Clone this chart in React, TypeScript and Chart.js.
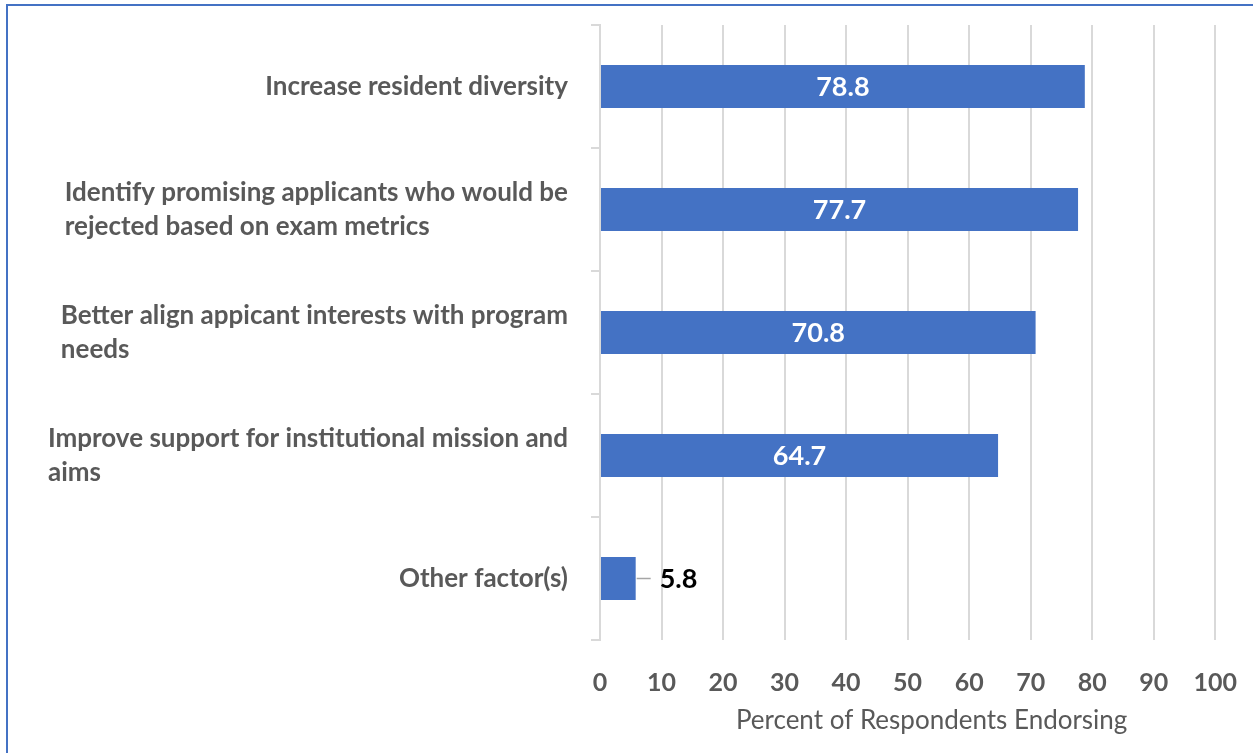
import React, { useEffect, useRef } from "react";
import { Chart, registerables } from "chart.js";

Chart.register(...registerables);

const categories: string[][] = [
  ["Increase resident diversity"],
  ["Identify promising applicants who would be", "rejected based on exam metrics"],
  ["Better align appicant interests with program", "needs"],
  ["Improve support for institutional mission and", "aims"],
  ["Other factor(s)"],
];
const values: number[] = [78.8, 77.7, 70.8, 64.7, 5.8];
const xTicks: number[] = [0, 10, 20, 30, 40, 50, 60, 70, 80, 90, 100];
const axisTitle = "Percent of Respondents Endorsing";

const FONT = "Lato, 'Noto Sans', sans-serif";
const GREY_TEXT = "#595959";
const GRID = "#d9d9d9";
const BAR = "#4472C4";

const labelPlugin = {
  id: "customLabels",
  afterDraw(chart: any) {
    const ctx = chart.ctx;
    const area = chart.chartArea;
    const yScale = chart.scales.y;
    ctx.save();
    // category labels
    ctx.font = `bold 26px ${FONT}`;
    ctx.fillStyle = GREY_TEXT;
    ctx.textBaseline = "middle";
    ctx.textAlign = "left";
    const lineH = 34;
    categories.forEach((lines, i) => {
      const cy = yScale.getPixelForValue(i);
      const maxW = Math.max(...lines.map((l) => ctx.measureText(l).width));
      const x0 = area.left - 32 - maxW;
      const startY = cy - ((lines.length - 1) * lineH) / 2;
      lines.forEach((l, j) => ctx.fillText(l, x0, startY + j * lineH));
    });
    // data labels
    const meta = chart.getDatasetMeta(0);
    ctx.font = `bold 27px ${FONT}`;
    meta.data.forEach((bar: any, i: number) => {
      const v = values[i];
      if (v > 20) {
        ctx.fillStyle = "#ffffff";
        ctx.textAlign = "center";
        ctx.fillText(v.toFixed(1), (bar.base + bar.x) / 2, bar.y + 1);
      } else {
        ctx.strokeStyle = "#a6a6a6";
        ctx.lineWidth = 1.5;
        ctx.beginPath();
        ctx.moveTo(bar.x + 1, bar.y);
        ctx.lineTo(bar.x + 15, bar.y);
        ctx.stroke();
        ctx.fillStyle = "#000000";
        ctx.textAlign = "left";
        ctx.fillText(v.toFixed(1), bar.x + 24, bar.y + 1);
      }
    });
    // axis title
    ctx.font = `26px ${FONT}`;
    ctx.fillStyle = GREY_TEXT;
    ctx.textAlign = "center";
    ctx.fillText(axisTitle, (area.left + area.right) / 2 + 24, 721);
    ctx.restore();
  },
};

export default function App() {
  const ref = useRef<HTMLCanvasElement | null>(null);
  useEffect(() => {
    if (!ref.current) return;
    const chart = new Chart(ref.current, {
      type: "bar",
      data: {
        labels: categories.map((c) => c.join(" ")),
        datasets: [
          {
            data: values,
            backgroundColor: BAR,
            borderWidth: 0,
            barPercentage: 0.35,
            categoryPercentage: 1,
          },
        ],
      },
      options: {
        indexAxis: "y",
        animation: false,
        responsive: false,
        maintainAspectRatio: false,
        layout: { padding: { top: 25, right: 37, bottom: 39, left: 0 } },
        plugins: {
          legend: { display: false },
          tooltip: { enabled: false },
          title: { display: false },
        },
        scales: {
          x: {
            min: 0,
            max: 100,
            afterBuildTicks: (scale: any) => {
              scale.ticks = xTicks.map((v) => ({ value: v }));
            },
            ticks: {
              color: GREY_TEXT,
              font: { family: FONT, size: 25, weight: "bold" },
              padding: 16,
            },
            grid: {
              color: GRID,
              lineWidth: 2,
              drawTicks: true,
              tickLength: 12,
              tickColor: "rgba(0,0,0,0)",
            },
            border: { display: false },
          },
          y: {
            ticks: { display: false },
            grid: {
              drawOnChartArea: false,
              drawTicks: true,
              tickLength: 9,
              color: GRID,
              lineWidth: 2,
              offset: true,
            },
            border: { display: true, color: GRID, width: 2 },
            afterFit: (scale: any) => {
              scale.width = 600;
            },
          },
        },
      },
      plugins: [labelPlugin],
    });
    return () => chart.destroy();
  }, []);
  return (
    <div style={{ position: "fixed", left: 0, top: 0, width: 1253, height: 753, overflow: "hidden", background: "#fff" }}>
      <canvas ref={ref} width={1253} height={753} style={{ position: "absolute", left: 0, top: 0 }} />
      <div
        style={{
          position: "absolute",
          left: 6,
          top: 4,
          width: 1400,
          height: 900,
          borderLeft: `2px solid ${BAR}`,
          borderTop: `2px solid ${BAR}`,
          pointerEvents: "none",
        }}
      />
    </div>
  );
}
